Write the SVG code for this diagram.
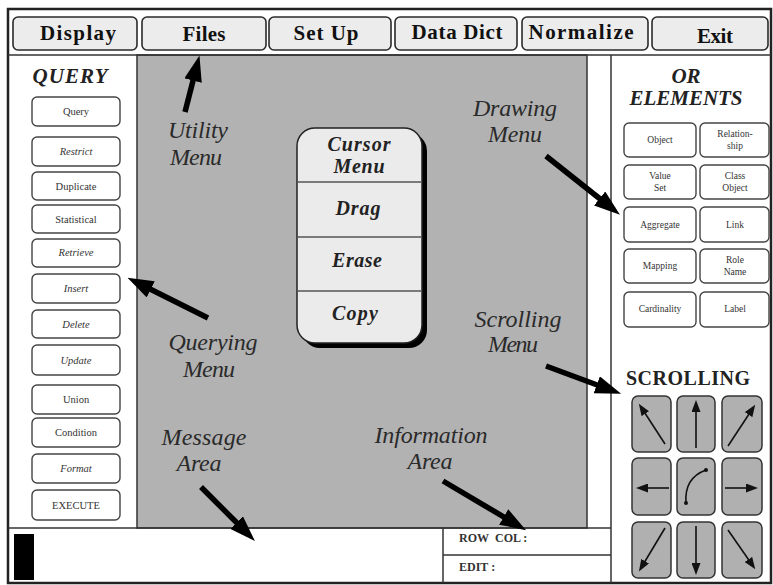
<svg xmlns="http://www.w3.org/2000/svg" width="773" height="585" viewBox="0 0 773 585">
  <defs>
    <style>
      .serif { font-family: "Liberation Serif", "Times New Roman", serif; }
      .menu rect { fill: #ececec; stroke: #2a2a2a; stroke-width: 1.6; }
      .menu text { font-family: "Liberation Serif", serif; font-weight: bold; font-size: 21px; fill: #111; text-anchor: middle; }
      .qb rect { fill: #fff; stroke: #444; stroke-width: 1.4; }
      .qb text { font-family: "Liberation Serif", serif; font-size: 10.5px; fill: #333; text-anchor: middle; }
      .eb rect { fill: #fff; stroke: #444; stroke-width: 1.4; }
      .eb text { font-family: "Liberation Serif", serif; font-size: 9.5px; fill: #333; text-anchor: middle; }
      .sb rect { fill: #b0b0b0; stroke: #333; stroke-width: 1.5; }
      .sb line, .sb path { stroke: #111; stroke-width: 1.6; fill: none; }
      .head { font-family: "Liberation Serif", serif; font-weight: bold; font-style: italic; font-size: 21px; fill: #222; text-anchor: middle; }
      .note { font-family: "Liberation Serif", serif; font-style: italic; font-size: 24px; fill: #2a2a2a; text-anchor: middle; }
      .cm { font-family: "Liberation Serif", serif; font-style: italic; font-weight: bold; font-size: 20px; fill: #222; text-anchor: middle; }
      .big { stroke: #000; stroke-width: 5.5; fill: none; }
      .info { font-family: "Liberation Serif", serif; font-size: 12px; font-weight: bold; fill: #333; }
      .rule { stroke: #333; stroke-width: 1.5; }
    </style>
    <marker id="bighead" markerUnits="userSpaceOnUse" markerWidth="26" markerHeight="18" refX="12" refY="9" orient="auto">
      <path d="M0,0 L26,9 L0,18 Z" fill="#000"/>
    </marker>
    <marker id="smallhead" markerUnits="userSpaceOnUse" markerWidth="12" markerHeight="9" refX="8" refY="4.5" orient="auto">
      <path d="M0,0 L12,4.5 L0,9 Z" fill="#111"/>
    </marker>
  </defs>

  <rect x="0" y="0" width="773" height="585" fill="#fff"/>

  <!-- work area -->
  <rect x="137" y="55" width="450" height="473" fill="#b2b2b2" stroke="#333" stroke-width="1.5"/>

  <!-- outer frame and panel rules -->
  <rect x="8" y="9" width="763" height="574" fill="none" stroke="#222" stroke-width="2.5"/>
  <line class="rule" x1="8" y1="55" x2="771" y2="55" stroke-width="2"/>
  <line class="rule" x1="611" y1="55" x2="611" y2="583"/>
  <line class="rule" x1="8" y1="528" x2="611" y2="528" stroke-width="2"/>
  <line class="rule" x1="443" y1="528" x2="443" y2="583"/>
  <line class="rule" x1="443" y1="555" x2="611" y2="555"/>

  <!-- top menu bar -->
  <g id="menu-display" class="menu"><rect x="13" y="17" width="124" height="33" rx="5"/><text x="78" y="40" textLength="76">Display</text></g>
  <g id="menu-files" class="menu"><rect x="142" y="17" width="124" height="33" rx="5"/><text x="204" y="41" textLength="43">Files</text></g>
  <g id="menu-setup" class="menu"><rect x="269" y="17" width="122" height="33" rx="5"/><text x="326" y="40" textLength="65">Set Up</text></g>
  <g id="menu-datadict" class="menu"><rect x="395" y="17" width="122" height="33" rx="5"/><text x="457" y="39" textLength="91">Data Dict</text></g>
  <g id="menu-normalize" class="menu"><rect x="522" y="17" width="126" height="33" rx="5"/><text x="581" y="39" textLength="105">Normalize</text></g>
  <g id="menu-exit" class="menu"><rect x="652" y="17" width="116" height="33" rx="5"/><text x="715" y="43" textLength="36">Exit</text></g>

  <!-- query panel -->
  <g id="query-panel">
    <text class="head" x="70" y="83" textLength="75">QUERY</text>
    <g class="qb">
      <rect x="32" y="97" width="88" height="29" rx="5"/><text x="76" y="115">Query</text>
      <rect x="32" y="137" width="88" height="29" rx="5"/><text x="76" y="155" font-style="italic">Restrict</text>
      <rect x="32" y="172" width="88" height="28" rx="5"/><text x="76" y="190">Duplicate</text>
      <rect x="32" y="205" width="88" height="28" rx="5"/><text x="76" y="223">Statistical</text>
      <rect x="32" y="239" width="88" height="28" rx="5"/><text x="76" y="256" font-style="italic">Retrieve</text>
      <rect x="32" y="274" width="88" height="29" rx="5"/><text x="76" y="292" font-style="italic">Insert</text>
      <rect x="32" y="310" width="88" height="28" rx="5"/><text x="76" y="328" font-style="italic">Delete</text>
      <rect x="32" y="345" width="88" height="30" rx="5"/><text x="76" y="364" font-style="italic">Update</text>
      <rect x="32" y="385" width="88" height="29" rx="5"/><text x="76" y="403">Union</text>
      <rect x="32" y="418" width="88" height="29" rx="5"/><text x="76" y="436">Condition</text>
      <rect x="32" y="454" width="88" height="29" rx="5"/><text x="76" y="472" font-style="italic">Format</text>
      <rect x="32" y="490" width="88" height="30" rx="5"/><text x="76" y="509">EXECUTE</text>
    </g>
  </g>

  <!-- elements panel -->
  <g id="elements-panel">
    <text class="head" x="686" y="83">OR</text>
    <text class="head" x="686" y="105" textLength="113">ELEMENTS</text>
    <g class="eb">
      <rect x="624" y="123" width="72" height="34" rx="5"/><text x="660" y="143">Object</text>
      <rect x="700" y="123" width="69" height="34" rx="5"/><text x="735" y="137">Relation-</text><text x="735" y="149">ship</text>
      <rect x="624" y="165" width="72" height="34" rx="5"/><text x="660" y="179">Value</text><text x="660" y="191">Set</text>
      <rect x="700" y="165" width="69" height="34" rx="5"/><text x="735" y="179">Class</text><text x="735" y="191">Object</text>
      <rect x="624" y="207" width="72" height="35" rx="5"/><text x="660" y="228">Aggregate</text>
      <rect x="700" y="207" width="69" height="35" rx="5"/><text x="735" y="228">Link</text>
      <rect x="624" y="249" width="72" height="34" rx="5"/><text x="660" y="269">Mapping</text>
      <rect x="700" y="249" width="69" height="34" rx="5"/><text x="735" y="263">Role</text><text x="735" y="275">Name</text>
      <rect x="624" y="292" width="72" height="35" rx="5"/><text x="660" y="312">Cardinality</text>
      <rect x="700" y="292" width="69" height="35" rx="5"/><text x="735" y="312">Label</text>
    </g>
  </g>

  <!-- scrolling panel -->
  <g id="scrolling-panel">
    <text class="serif" x="688" y="385" text-anchor="middle" font-weight="bold" font-size="20" fill="#222" textLength="124">SCROLLING</text>
    <g class="sb">
      <rect x="632" y="396" width="39" height="56" rx="6"/>
      <rect x="677" y="396" width="38" height="56" rx="6"/>
      <rect x="722" y="396" width="40" height="56" rx="6"/>
      <rect x="632" y="458" width="39" height="57" rx="6"/>
      <rect x="677" y="458" width="38" height="57" rx="6"/>
      <rect x="722" y="458" width="40" height="57" rx="6"/>
      <rect x="632" y="522" width="39" height="56" rx="6"/>
      <rect x="677" y="522" width="38" height="56" rx="6"/>
      <rect x="722" y="522" width="40" height="56" rx="6"/>
      <line x1="665" y1="444" x2="641" y2="407" marker-end="url(#smallhead)"/>
      <line x1="696" y1="448" x2="696" y2="404" marker-end="url(#smallhead)"/>
      <line x1="728" y1="446" x2="753" y2="408" marker-end="url(#smallhead)"/>
      <line x1="669" y1="488" x2="640" y2="488" marker-end="url(#smallhead)"/>
      <path d="M686,503 Q684,478 706,470"/>
      <circle cx="686" cy="503" r="2" fill="#111"/>
      <circle cx="706" cy="470" r="2" fill="#111"/>
      <line x1="725" y1="488" x2="754" y2="488" marker-end="url(#smallhead)"/>
      <line x1="665" y1="528" x2="641" y2="568" marker-end="url(#smallhead)"/>
      <line x1="696" y1="526" x2="696" y2="571" marker-end="url(#smallhead)"/>
      <line x1="728" y1="530" x2="753" y2="566" marker-end="url(#smallhead)"/>
    </g>
  </g>

  <!-- cursor menu -->
  <g id="cursor-menu">
    <rect x="302" y="133" width="125" height="215" rx="18" fill="#000"/>
    <rect x="297" y="128" width="125" height="215" rx="18" fill="#ebebeb" stroke="#222" stroke-width="1.5"/>
    <line x1="297" y1="182" x2="422" y2="182" stroke="#555" stroke-width="1.5"/>
    <line x1="297" y1="237" x2="422" y2="237" stroke="#555" stroke-width="1.5"/>
    <line x1="297" y1="291" x2="422" y2="291" stroke="#555" stroke-width="1.5"/>
    <text class="cm" x="359" y="151" textLength="63">Cursor</text>
    <text class="cm" x="359" y="173" textLength="51">Menu</text>
    <text class="cm" x="358" y="215" textLength="45">Drag</text>
    <text class="cm" x="357" y="267" textLength="50">Erase</text>
    <text class="cm" x="355" y="320" textLength="46">Copy</text>
  </g>

  <!-- message and information areas -->
  <g id="message-area">
    <rect x="14" y="534" width="20" height="46" fill="#000"/>
  </g>
  <g id="information-area">
    <text class="info" x="459" y="542">ROW&#160;&#160;COL :</text>
    <text class="info" x="459" y="571">EDIT :</text>
  </g>

  <!-- callout labels -->
  <g id="label-utility"><text class="note" x="198" y="138" textLength="60">Utility</text><text class="note" x="196" y="165" textLength="52">Menu</text></g>
  <g id="label-querying"><text class="note" x="213" y="350" textLength="89">Querying</text><text class="note" x="209" y="377" textLength="52">Menu</text></g>
  <g id="label-drawing"><text class="note" x="515" y="116" textLength="84">Drawing</text><text class="note" x="515" y="142" textLength="54">Menu</text></g>
  <g id="label-scrolling"><text class="note" x="518" y="327" textLength="87">Scrolling</text><text class="note" x="513" y="352" textLength="50">Menu</text></g>
  <g id="label-message"><text class="note" x="204" y="445" textLength="85">Message</text><text class="note" x="199" y="471" textLength="45">Area</text></g>
  <g id="label-information"><text class="note" x="431" y="443" textLength="113">Information</text><text class="note" x="430" y="469" textLength="45">Area</text></g>

  <!-- callout arrows -->
  <g id="connectors">
    <line class="big" x1="185" y1="112" x2="196" y2="69" marker-end="url(#bighead)"/>
    <line class="big" x1="208" y1="318" x2="140" y2="284" marker-end="url(#bighead)"/>
    <line class="big" x1="546" y1="156" x2="609" y2="206" marker-end="url(#bighead)"/>
    <line class="big" x1="546" y1="366" x2="608" y2="389" marker-end="url(#bighead)"/>
    <line class="big" x1="201" y1="487" x2="245" y2="531" marker-end="url(#bighead)"/>
    <line class="big" x1="443" y1="481" x2="514" y2="523" marker-end="url(#bighead)"/>
  </g>
</svg>
